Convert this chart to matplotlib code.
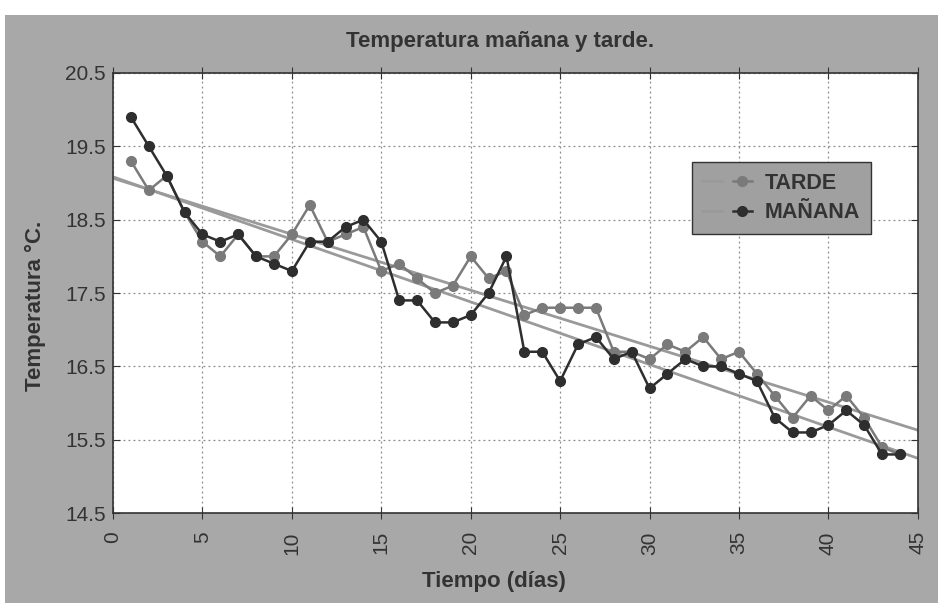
import matplotlib
matplotlib.use("Agg")
import matplotlib.pyplot as plt
from matplotlib.patches import Rectangle
from matplotlib.legend_handler import HandlerTuple
import numpy as np

# datos
dias = list(range(1, 45))
tarde = [19.3, 18.9, 19.1, 18.6, 18.2, 18.0, 18.3, 18.0, 18.0, 18.3,
         18.7, 18.2, 18.3, 18.4, 17.8, 17.9, 17.7, 17.5, 17.6, 18.0,
         17.7, 17.8, 17.2, 17.3, 17.3, 17.3, 17.3, 16.7, 16.7, 16.6,
         16.8, 16.7, 16.9, 16.6, 16.7, 16.4, 16.1, 15.8, 16.1, 15.9,
         16.1, 15.8, 15.4, 15.3]
manana = [19.9, 19.5, 19.1, 18.6, 18.3, 18.2, 18.3, 18.0, 17.9, 17.8,
          18.2, 18.2, 18.4, 18.5, 18.2, 17.4, 17.4, 17.1, 17.1, 17.2,
          17.5, 18.0, 16.7, 16.7, 16.3, 16.8, 16.9, 16.6, 16.7, 16.2,
          16.4, 16.6, 16.5, 16.5, 16.4, 16.3, 15.8, 15.6, 15.6, 15.7,
          15.9, 15.7, 15.3, 15.3]
x_ticks = list(range(0, 50, 5))
y_ticks = [14.5, 15.5, 16.5, 17.5, 18.5, 19.5, 20.5]

plt.rcParams['font.family'] = ['Liberation Sans', 'DejaVu Sans']
texto = '#333333'

fig = plt.figure(figsize=(9.38, 6.03), dpi=100, facecolor='white')
fig.patches.append(Rectangle((0.005, 0.0), 0.995, 0.975, transform=fig.transFigure,
                             facecolor='#a8a8a8', edgecolor='none', zorder=-10))
ax = fig.add_axes([0.1205, 0.149, 0.858, 0.730])
ax.set_facecolor('white')

# rectas de regresion
xr = np.array([0, 45])
pt = np.polyfit(dias, tarde, 1)
pm = np.polyfit(dias, manana, 1)
tr_t, = ax.plot(xr, np.polyval(pt, xr), color='#9a9a9a', lw=2, zorder=2)
tr_m, = ax.plot(xr, np.polyval(pm, xr), color='#9a9a9a', lw=2, zorder=2)

lt, = ax.plot(dias, tarde, color='#7a7a7a', marker='o', ms=7, lw=1.8, zorder=3)
lm, = ax.plot(dias, manana, color='#2e2e2e', marker='o', ms=7, lw=1.8, zorder=4)

ax.set_xlim(0, 45)
ax.set_ylim(14.5, 20.5)
ax.set_xticks(x_ticks)
ax.set_yticks(y_ticks)
ax.set_xticklabels([str(v) for v in x_ticks], rotation=90, fontsize=15, color=texto)
ax.set_yticklabels([str(v) for v in y_ticks], fontsize=15, color=texto)
ax.tick_params(direction='in', top=True, right=True, length=5, color=texto)
ax.tick_params(axis='x', which='major', bottom=True, direction='inout', length=8, pad=9)
ax.tick_params(axis='y', pad=5)
ax.grid(True, linestyle=(0, (1.5, 2.5)), color='#8a8a8a', lw=0.9)
for s in ax.spines.values():
    s.set_color(texto)
    s.set_linewidth(1.2)

ax.set_title('Temperatura mañana y tarde.', fontsize=16, fontweight='bold',
             color=texto, x=0.481, y=1.0, pad=19)
ax.set_xlabel('Tiempo (días)', fontsize=16, fontweight='bold', color=texto)
ax.xaxis.set_label_coords(0.473, -0.132)
ax.set_ylabel('Temperatura °C.', fontsize=16, fontweight='bold', color=texto)
ax.yaxis.set_label_coords(-0.083, 0.47)

leg = ax.legend([(tr_t, lt), (tr_m, lm)], ['TARDE', 'MAÑANA'],
                handler_map={tuple: HandlerTuple(ndivide=None)},
                loc='upper left', bbox_to_anchor=(0.719, 0.798), borderaxespad=0,
                prop={'weight': 'bold', 'size': 15.5}, frameon=True, fancybox=False,
                facecolor='#a0a0a0', edgecolor=texto, framealpha=1,
                handlelength=2.3, borderpad=0.5, labelspacing=0.4,
                handletextpad=0.6)
for t in leg.get_texts():
    t.set_color(texto)

fig.savefig('out.png', dpi=100)
